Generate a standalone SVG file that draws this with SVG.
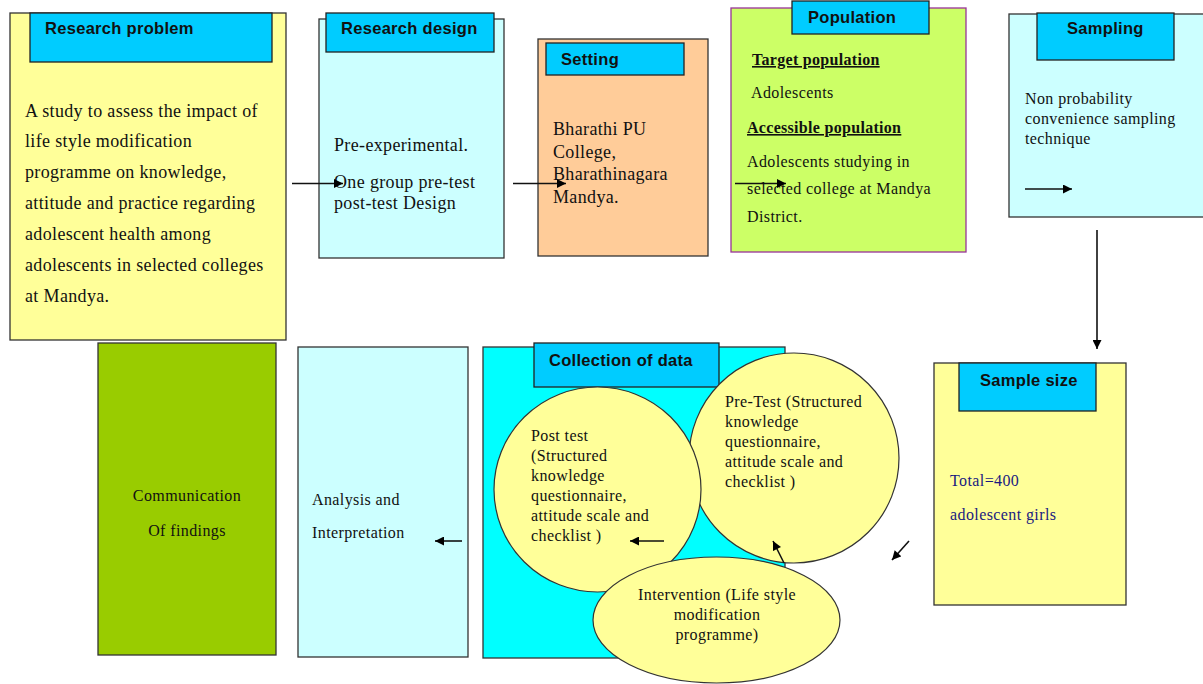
<svg xmlns="http://www.w3.org/2000/svg" width="1203" height="684" viewBox="0 0 1203 684">
<defs>
<marker id="ah" viewBox="0 0 10 10" refX="10" refY="5" markerWidth="10" markerHeight="9" markerUnits="userSpaceOnUse" orient="auto">
<path d="M0,0 L10,5 L0,10 z" fill="#000"/>
</marker>
</defs>
<style>
.box{stroke:#333;stroke-width:1.3}
.hdr{fill:#00ccff;stroke:#222;stroke-width:1.3}
.ht{font-family:"Liberation Sans",Arial,sans-serif;font-weight:bold;font-size:16.5px;fill:#111;letter-spacing:0.3px}
.bt{font-family:"Liberation Serif","Times New Roman",serif;font-size:18px;fill:#111;letter-spacing:0.35px}
.st{font-family:"Liberation Serif","Times New Roman",serif;font-size:16px;fill:#111;letter-spacing:0.4px}
.ub{font-family:"Liberation Serif","Times New Roman",serif;font-size:16px;font-weight:bold;fill:#111;text-decoration:underline;letter-spacing:0.3px}
.circ{fill:#ffff99;stroke:#333;stroke-width:1.2}
.ln{stroke:#111;stroke-width:1.6;fill:none;marker-end:url(#ah)}
</style>
<rect width="1203" height="684" fill="#fff"/>

<g id="research-problem">
<rect class="box" x="10" y="13" width="276" height="327" fill="#ffff99"/>
<rect class="hdr" x="30" y="13" width="242" height="49"/>
<text class="ht" x="45" y="34">Research problem</text>
<text class="bt" x="25" y="116.5">A study to assess the impact of</text>
<text class="bt" x="25" y="147.3">life style modification</text>
<text class="bt" x="25" y="178">programme on knowledge,</text>
<text class="bt" x="25" y="209">attitude and practice regarding</text>
<text class="bt" x="25" y="240">adolescent health among</text>
<text class="bt" x="25" y="271">adolescents in selected colleges</text>
<text class="bt" x="25" y="301.5">at Mandya.</text>
</g>

<g id="research-design">
<rect class="box" x="319" y="19" width="185" height="239" fill="#ccffff"/>
<rect class="hdr" x="326" y="13" width="168" height="39"/>
<text class="ht" x="341" y="34">Research design</text>
<text class="bt" x="334" y="151">Pre-experimental.</text>
<text class="bt" x="334" y="188">One group pre-test</text>
<text class="bt" x="334" y="209">post-test Design</text>
</g>

<g id="setting">
<rect class="box" x="538" y="39" width="170" height="217" fill="#ffcc99"/>
<rect class="hdr" x="546" y="43" width="138" height="32"/>
<text class="ht" x="561" y="65">Setting</text>
<text class="bt" x="553" y="135">Bharathi PU</text>
<text class="bt" x="553" y="157.5">College,</text>
<text class="bt" x="553" y="180">Bharathinagara</text>
<text class="bt" x="553" y="203">Mandya.</text>
</g>

<g id="population">
<rect x="731" y="8" width="235" height="244" fill="#ccff66" stroke="#993399" stroke-width="1.3"/>
<rect class="hdr" x="792" y="1" width="137" height="33"/>
<text class="ht" x="808" y="23">Population</text>
<text class="ub" x="752" y="65">Target population</text>
<text class="st" x="751" y="98">Adolescents</text>
<text class="ub" x="747" y="133">Accessible population</text>
<text class="st" x="747" y="167">Adolescents studying in</text>
<text class="st" x="747" y="194">selected college at Mandya</text>
<text class="st" x="747" y="222">District.</text>
</g>

<g id="sampling">
<rect class="box" x="1009" y="14" width="200" height="203" fill="#ccffff"/>
<rect class="hdr" x="1037" y="13" width="137" height="47"/>
<text class="ht" x="1067" y="34">Sampling</text>
<text class="st" x="1025" y="104">Non probability</text>
<text class="st" x="1025" y="124">convenience sampling</text>
<text class="st" x="1025" y="144">technique</text>
</g>

<g id="sample-size">
<rect class="box" x="934" y="363" width="192" height="242" fill="#ffff99"/>
<rect class="hdr" x="959" y="363" width="137" height="48"/>
<text class="ht" x="980" y="386">Sample size</text>
<text class="st" x="950" y="486" style="fill:#1a1a80">Total=400</text>
<text class="st" x="950" y="520" style="fill:#1a1a80">adolescent girls</text>
</g>

<g id="collection-of-data">
<rect class="box" x="483" y="347" width="302" height="311" fill="#00ffff"/>
<rect class="hdr" x="534" y="343" width="185" height="44"/>
<text class="ht" x="549" y="366">Collection of data</text>
</g>

<g id="pre-test">
<ellipse class="circ" cx="794" cy="458" rx="105" ry="105"/>
<text class="st" x="725" y="407">Pre-Test (Structured</text>
<text class="st" x="725" y="427">knowledge</text>
<text class="st" x="725" y="447">questionnaire,</text>
<text class="st" x="725" y="467">attitude scale and</text>
<text class="st" x="725" y="487">checklist )</text>
</g>

<g id="post-test">
<ellipse class="circ" cx="597.5" cy="489.5" rx="103.5" ry="102.5"/>
<text class="st" x="531" y="441">Post test</text>
<text class="st" x="531" y="461">(Structured</text>
<text class="st" x="531" y="481">knowledge</text>
<text class="st" x="531" y="501">questionnaire,</text>
<text class="st" x="531" y="521">attitude scale and</text>
<text class="st" x="531" y="541">checklist )</text>
</g>

<g id="intervention">
<ellipse class="circ" cx="716.5" cy="620" rx="123.5" ry="63"/>
<text class="st" x="717" y="600" text-anchor="middle">Intervention (Life style</text>
<text class="st" x="717" y="620" text-anchor="middle">modification</text>
<text class="st" x="717" y="640" text-anchor="middle">programme)</text>
</g>

<g id="analysis">
<rect class="box" x="298" y="347" width="170" height="310" fill="#ccffff"/>
<text class="st" x="312" y="505">Analysis and</text>
<text class="st" x="312" y="538">Interpretation</text>
</g>

<g id="communication">
<rect class="box" x="98" y="343" width="178" height="312" fill="#99cc00"/>
<text class="st" x="187" y="501" text-anchor="middle">Communication</text>
<text class="st" x="187" y="536" text-anchor="middle">Of findings</text>
</g>

<g id="connectors">
<line class="ln" x1="292" y1="183.5" x2="343" y2="183.5"/>
<line class="ln" x1="513" y1="183.5" x2="566" y2="183.5"/>
<line class="ln" x1="735" y1="183.5" x2="786" y2="183.5"/>
<line class="ln" x1="1025" y1="189" x2="1072" y2="189"/>
<line class="ln" x1="1097" y1="230" x2="1097" y2="349"/>
<line class="ln" x1="909" y1="541" x2="892" y2="560"/>
<line class="ln" x1="784" y1="563" x2="773" y2="541"/>
<line class="ln" x1="664" y1="541" x2="630" y2="541"/>
<line class="ln" x1="462" y1="541" x2="435" y2="541"/>
</g>
</svg>
